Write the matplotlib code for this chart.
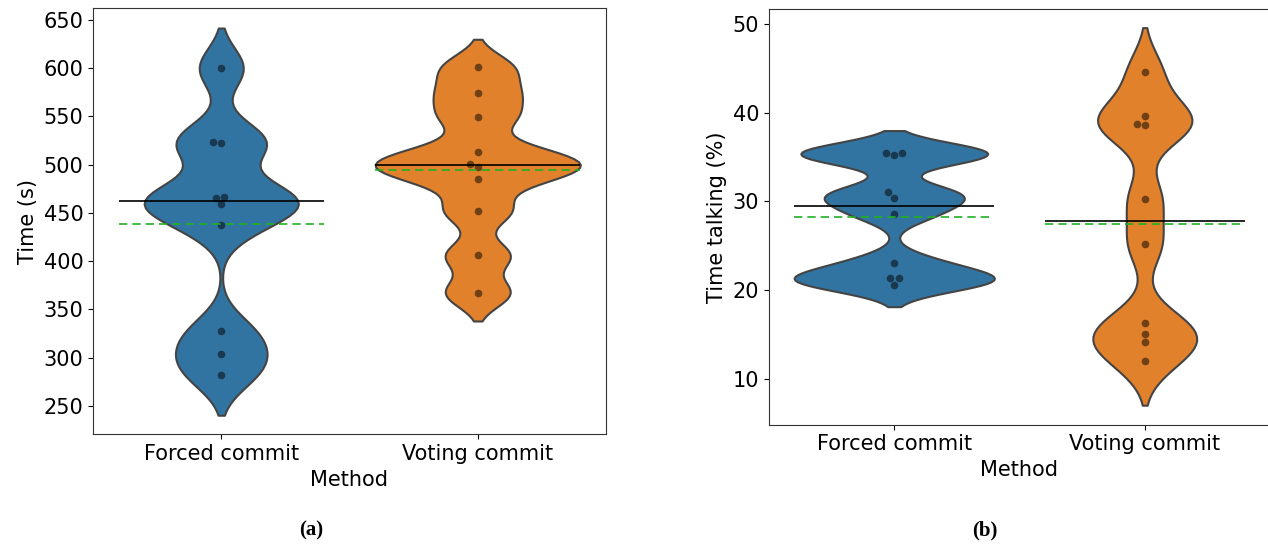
import numpy as np
import pandas as pd
import matplotlib
matplotlib.use('Agg')
import matplotlib.pyplot as plt
import seaborn as sns

methods = ['Forced commit', 'Voting commit']
# (a) time taken (s)
forced_time = [600, 524, 522, 467, 465, 459, 438, 328, 304, 282]
voting_time = [601, 574, 549, 513, 501, 498, 485, 452, 406, 367]
# (b) share of time talking (%)
forced_talk = [35.4, 35.2, 35.5, 31.0, 30.4, 28.6, 23.1, 21.3, 21.3, 20.6]
voting_talk = [44.6, 39.6, 38.7, 38.6, 30.3, 25.2, 16.3, 15.0, 14.1, 12.0]

plt.rcParams['font.family'] = ['DejaVu Sans']

fig = plt.figure(figsize=(12.68, 5.46), dpi=100)
W, H = 1268, 546
ax1 = fig.add_axes([93 / W, 1 - 434.3 / H, (606 - 93) / W, (434.3 - 8.3) / H])
ax2 = fig.add_axes([769 / W, 1 - 424.5 / H, (1270 - 769) / W, (424.5 - 9.3) / H])


def panel(ax, a, b, ylabel, ylim):
    df = pd.DataFrame({'Method': [methods[0]] * len(a) + [methods[1]] * len(b),
                       'val': list(a) + list(b)})
    sns.violinplot(data=df, x='Method', y='val', hue='Method', legend=False,
                   bw_method=0.2, cut=2, inner=None, linewidth=1.5,
                   density_norm='area', common_norm=True,
                   linecolor='#444444', ax=ax)
    sns.swarmplot(data=df, x='Method', y='val', color='k', alpha=0.5, size=5.5, ax=ax)
    for i, d in enumerate([a, b]):
        ax.hlines(np.median(d), i - 0.4, i + 0.4, color='k', lw=1.2, zorder=5)
        ax.hlines(np.mean(d), i - 0.4, i + 0.4, color='#22b022', lw=1.2,
                  linestyles=(0, (5, 3)), zorder=5)
    ax.set_xlim(-0.5, 1.5)
    ax.set_ylim(*ylim)
    ax.set_xlabel('Method', fontsize=15)
    ax.set_ylabel(ylabel, fontsize=15)
    ax.tick_params(labelsize=15)
    for s in ax.spines.values():
        s.set_color('#333333')


panel(ax1, forced_time, voting_time, 'Time (s)', (220.7, 662))
panel(ax2, forced_talk, voting_talk, 'Time talking (%)', (4.83, 51.66))
ax1.set_yticks(range(250, 651, 50))
ax2.set_yticks(range(10, 51, 10))

fig.text(311 / W, 1 - 530 / H, '(a)', family='Liberation Serif', weight='bold',
         fontsize=15, ha='center', va='center')
fig.text(985 / W, 1 - 530 / H, '(b)', family='Liberation Serif', weight='bold',
         fontsize=15, ha='center', va='center')

fig.savefig('out.png', dpi=100)
